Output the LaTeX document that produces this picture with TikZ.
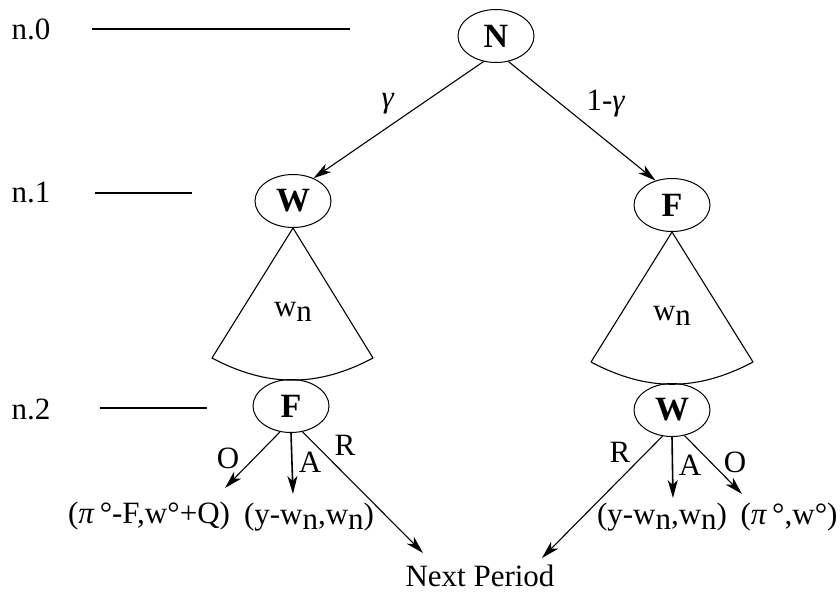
\documentclass[tikz,border=0pt]{standalone}
\usepackage{fontspec}
\setmainfont{Liberation Serif}
\newfontfamily\stagefont{Liberation Serif}
\usetikzlibrary{shapes.geometric,arrows.meta}

% w with a lowered n
\newcommand{\wsubn}{w\raisebox{-5pt}{n}}

\begin{document}
\begin{tikzpicture}[x=1pt,y=-1pt,
  every node/.style={font=\fontsize{31}{34}\selectfont, inner sep=0pt},
  stage/.style={ellipse, draw, line width=1pt, minimum width=76pt,
    minimum height=53pt, font=\stagefont\fontsize{34}{38}\selectfont\bfseries},
  arr/.style={line width=1.1pt, -{Stealth[length=18pt,width=10pt,inset=5pt]}},
  levelline/.style={line width=1.3pt},
  fanline/.style={line width=1.1pt, line join=round}]

\useasboundingbox (0,0) rectangle (840,594);

% period levels
\node (n0) at (31,29) {n.0};
\node (n1) at (31,192) {n.1};
\node (n2) at (31,409) {n.2};
\coordinate (l0a) at (92,29);  \coordinate (l0b) at (350,29);
\coordinate (l1a) at (95,193); \coordinate (l1b) at (192,193);
\coordinate (l2a) at (100,408); \coordinate (l2b) at (207,408);
\draw[levelline] (l0a) -- (l0b);
\draw[levelline] (l1a) -- (l1b);
\draw[levelline] (l2a) -- (l2b);

% decision nodes
\node[stage] (N)  at (496,36)  {N};
\node[stage] (W1) at (293,201) {W};
\node[stage] (F1) at (672,205) {F};
\node[stage] (F2) at (291,406) {F};
\node[stage] (W2) at (672,410) {W};

% nature's move
\draw[arr] (N.-116) -- (W1.48);
\draw[arr] (N.-64) -- (F1.124);
\node (g)  at (388,104) {\textit{γ}};
\node (g1) at (606,104) {1-\textit{γ}};

% wage offer fans
\coordinate (fl1) at (212,358); \coordinate (fr1) at (373,358);
\coordinate (fl2) at (591,362); \coordinate (fr2) at (753,362);
\draw[fanline] (W1.south) -- (fl1) to[bend right=28] (fr1) -- cycle;
\draw[fanline] (F1.south) -- (fl2) to[bend right=28] (fr2) -- cycle;
\node (wn1) at (293,312) {\wsubn};
\node (wn2) at (672,316) {\wsubn};

% outcomes
\node (pl) at (149,516) {(\textit{π}\,°-F,w°+Q)};
\node (al) at (309,517) {(y-\wsubn,\wsubn)};
\node (np) at (480,576) {Next Period};
\node (ar) at (662,517) {(y-\wsubn,\wsubn)};
\node (pr) at (789,517) {(\textit{π}\,°,w°)};

\coordinate (tOl) at (225,488);
\coordinate (tAl) at (293,494);
\coordinate (tRl) at (423,553);
\coordinate (tRr) at (542,558);
\coordinate (tAr) at (673,498);
\coordinate (tOr) at (742,494);

\draw[arr] (F2.-113) -- (tOl);
\draw[arr, line width=1.6pt] (F2.south) -- (tAl);
\draw[arr] (F2.-66) -- (tRl);
\draw[arr] (W2.-110) -- (tRr);
\draw[arr, line width=1.6pt] (W2.south) -- (tAr);
\draw[arr] (W2.-64) -- (tOr);

% move labels
\node (oL) at (228,458) {O};
\node (aL) at (310,462) {A};
\node (rL) at (345,445) {R};
\node (rR) at (620,452) {R};
\node (aR) at (690,465) {A};
\node (oR) at (735,462) {O};
\end{tikzpicture}
\end{document}
